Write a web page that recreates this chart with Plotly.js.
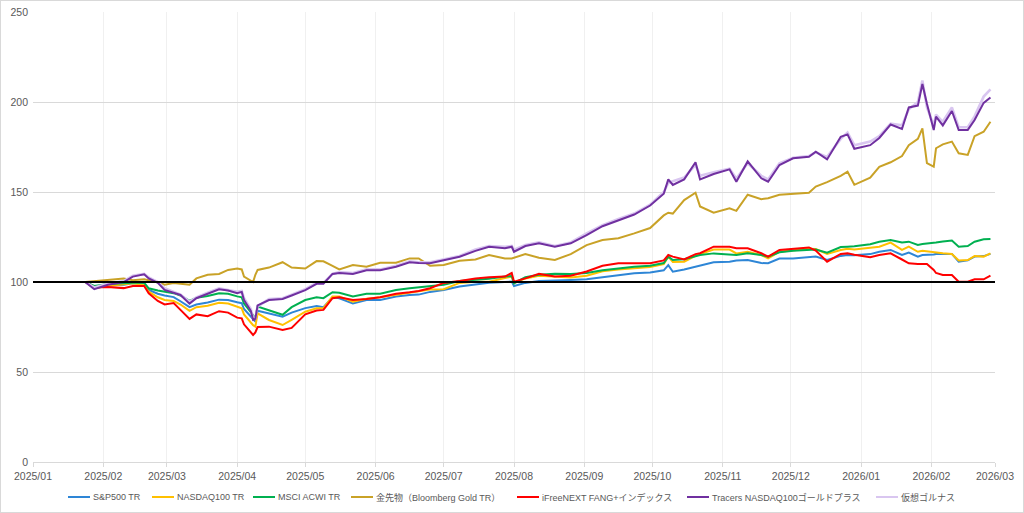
<!DOCTYPE html>
<html><head><meta charset="utf-8">
<script src="https://cdn.plot.ly/plotly-3.0.1.min.js"></script>
<style>
html,body{margin:0;padding:0;background:#fff;}
#chart{width:1024px;height:513px;box-sizing:border-box;border:1px solid #D9D9D9;}
</style></head>
<body><div id="chart"></div>
<script>
const dates = ['2025-01-24','2025-01-28','2025-02-03','2025-02-10','2025-02-14','2025-02-19','2025-02-21','2025-02-25','2025-02-28','2025-03-04',
'2025-03-07','2025-03-11','2025-03-14','2025-03-19','2025-03-24','2025-03-28','2025-04-01','2025-04-03','2025-04-04','2025-04-07',
'2025-04-08','2025-04-09','2025-04-10','2025-04-15','2025-04-21','2025-04-25','2025-05-01','2025-05-06','2025-05-09','2025-05-13',
'2025-05-16','2025-05-22','2025-05-28','2025-06-03','2025-06-10','2025-06-16','2025-06-20','2025-06-25','2025-07-01','2025-07-08',
'2025-07-15','2025-07-21','2025-07-28','2025-07-31','2025-08-01','2025-08-06','2025-08-12','2025-08-19','2025-08-26','2025-09-02',
'2025-09-09','2025-09-16','2025-09-23','2025-09-30','2025-10-06','2025-10-08','2025-10-10','2025-10-15','2025-10-20','2025-10-22',
'2025-10-28','2025-11-04','2025-11-07','2025-11-12','2025-11-18','2025-11-21','2025-11-26','2025-12-02','2025-12-09','2025-12-12',
'2025-12-17','2025-12-23','2025-12-26','2025-12-29','2026-01-05','2026-01-09','2026-01-14','2026-01-19','2026-01-22','2026-01-26',
'2026-01-28','2026-01-30','2026-02-02','2026-02-03','2026-02-06','2026-02-10','2026-02-13','2026-02-17','2026-02-20','2026-02-24',
'2026-02-27'];

const sp500 = [100,97.4,98,98.5,99.3,98.9,95.6,93.5,92.5,91.6,
89.3,86,87.5,88.6,90.2,90,88.7,88.2,85,80.5,
79,78,84,82.6,80.7,83,85.5,86.7,86,91.5,
91,88.1,90,90,91.9,92.8,93,94.5,95.6,97.5,
98.8,99.6,100,100.2,97.8,99.5,100.5,101,101.1,101.5,
102.5,103.5,104.8,105.3,106.5,109.4,105.7,107,108.5,109,
111,111.3,112,112.2,110.5,110.4,113,113.1,114,114.1,
112.2,114.5,115,114.8,115.5,116.8,117.8,115,116.3,114.1,
115,115,115.3,115.6,115.6,115.6,111.3,112,114.1,114.4,
115.6];

const nasdaq100 = [100,96.5,97.8,98.8,99.3,98.3,94.6,91.5,90,89.5,
87.5,84,86,86.8,88.5,88,86.5,85.4,82,77.5,
76,75.2,82.6,78.9,76.1,79,83.5,85.4,85.5,92,
92,89.1,90.7,91.5,92.8,94,94.8,95.8,96,99.5,
100.2,100.2,102.2,103,99.3,102,103.5,103,102.5,103.5,
106,107,107.6,108.3,110,114.1,111.1,111.3,114.5,115.5,
118,118,115.9,116.8,115,113.1,116.8,117.4,118.5,118.3,
115.6,117.8,118.5,118,119,119.6,121.9,117.8,119.6,116.8,
117.4,117,116.5,116.5,116,115.6,111.9,112.2,114.4,114.1,
115.9];

const acwi = [100,97.8,98.9,99.4,99.6,99.6,96.5,95.3,94.6,93.8,
92.5,89.5,91.2,92.2,93.8,93.5,92,91.5,88,83.5,
81.5,80,86.3,84.4,81.8,86,90,91.5,91,94.3,
94,91.9,93.5,93.5,95.5,96.5,97,97.6,98.5,100.5,
101.2,101.8,103,103.3,99.3,102.6,104,104.6,104.4,105,
106.5,107.5,108.5,109,110.5,114.1,112.2,112.6,114.5,115,
115.9,115.5,115,115.9,115,114.1,116.5,117.4,118.1,118,
116.3,119.4,119.6,119.8,121,122.4,123.3,121.9,122.4,120.6,
121.1,121.3,121.5,121.9,122.5,123,119.6,120,122.4,123.7,
123.9];

const goldTR = [100,100.5,101.5,102,101,101.5,101,100,98.5,99.5,
99,98.5,102,104,104.5,106.7,107.5,107,103,101,
100,104,106.7,108,111,108,107.5,111.6,111.5,109,
107,109.4,108.5,110.7,110.7,113.1,113.1,109,109.5,111.8,
112.5,115,113.1,113.1,113.5,115.5,113.5,112.2,115.5,120.5,
123.3,124.3,127,130,137,138.5,138,145.5,149.6,142,
138.5,140.9,139.5,148.5,146,146.5,148.5,149,149.6,153,
155.5,159,161.3,154,158,164,166.5,170,176,179.5,
185.4,166,164.1,174.3,176.5,178,171.5,170.6,181,183.5,
189];

const fangPlus = [100,97,97.2,96.6,97.8,97.8,93.7,89.5,87.5,88.3,
84.5,79.5,82,81,83.8,83,80.2,79.8,76.5,72,
70.6,72,75,75.2,73.3,74.5,82,84.2,84.5,91,
91.5,90,90.5,91.5,93.5,94.3,95,96.5,99.5,100.5,
102,102.6,103,105,100.2,102,104.5,103,103.5,105.8,
109,110.4,110.4,110.4,112,115,114.1,112.5,115.5,116,
119.6,119.6,118.7,118.7,116,114.1,117.8,118.6,119.2,117.5,
111.3,115.6,115.9,115.2,113.8,115,115.9,112.5,110.4,110,
110,110,106.7,105,103.9,103.9,100.2,100.2,101.5,101.5,
103.5];

const tracersGoldPlus = [100,96,98.5,100,103,104.3,102,99.5,95.6,94,
92.8,88,91,93.5,96,95.3,93.8,94.5,90,84,
79,79.5,87,90,90.6,92.5,95.5,99,99,104.5,
105,104.5,106.5,106.5,108.5,111,110.5,110.4,112,114,
117.3,119.6,118.7,119.6,116.8,120,121.5,119.6,121.5,126,
131,134.4,137.5,142.5,149,157,153.9,157,166.5,157,
160,162.6,155.7,167,157.6,155.7,165,168.7,169.6,172.4,
168.1,180.7,182,174,176,180,187.5,185,197,198,
210,199,184.4,191.9,187,195,184.4,184.5,190,199.5,
202.5];

const virtualGolnas = [100,97,99,100.5,103.5,104.5,102.5,100,96.5,94.5,
93,89,91.5,94,96.5,95.5,94.5,95,91,85,
80,80,86.5,90.5,91,93,96,99.5,99.5,104.5,
105.5,105,107,107,109,111.5,111,111,112.5,114.5,
118,120,119.5,120,118,120.5,122,120,122,127,
131.5,135,138,143,150,155,156,158,165,159,
161,163,157.5,166,159,157,166,169,170,172,
169.5,179.5,183,176,178,181,188,187,196,200,
212,197,187,193,189,197,186,186,192,203,
207];

const baseline = 100;

const seriesNames = ['S&P500 TR','NASDAQ100 TR','MSCI ACWI TR','金先物（Bloomberg Gold TR）','iFreeNEXT FANG+インデックス','Tracers NASDAQ100ゴールドプラス','仮想ゴルナス'];
const seriesData = [sp500, nasdaq100, acwi, goldTR, fangPlus, tracersGoldPlus, virtualGolnas];
const seriesColors = ['#2E86D6','#FFC000','#00B050','#C9A227','#FF0000','#7030A0','#D9C6F0'];
const seriesWidths = [2,2,2,2,2,2,2.6];
const drawOrder = [0,1,2,3,4,6,5];

// legend layout (page pixels): start of each legend key line
const legendKeyX = [68,152,253,351,517,687,876];
const legendY = 497;
const plotLeft = 33, plotRight = 995, plotTop = 12, plotBottom = 462;
const px2paperX = p => (p - plotLeft) / (plotRight - plotLeft);
const px2paperY = p => (plotBottom - p) / (plotBottom - plotTop);

const traces = drawOrder.map(i=>({
  type:'scatter', mode:'lines', name:seriesNames[i], x:dates, y:seriesData[i],
  line:{color:seriesColors[i], width:seriesWidths[i]}
}));

const font = '"Liberation Sans", "Noto Sans CJK JP", sans-serif';

const shapes = [{type:'line', xref:'paper', x0:0, x1:1, yref:'y', y0:baseline, y1:baseline,
    line:{color:'#000000', width:2}, layer:'above'}];
const annotations = [];
seriesNames.forEach((n,i)=>{
  shapes.push({type:'line', xref:'paper', yref:'paper',
    x0:px2paperX(legendKeyX[i]), x1:px2paperX(legendKeyX[i]+22),
    y0:px2paperY(legendY), y1:px2paperY(legendY),
    line:{color:seriesColors[i], width:2}});
  annotations.push({xref:'paper', yref:'paper', x:px2paperX(legendKeyX[i]+23), y:px2paperY(legendY),
    xanchor:'left', yanchor:'middle', showarrow:false, text:n,
    font:{family:font, size:9, color:'#595959'}});
});

const layout = {
  width:1022, height:511,
  margin:{l:32,r:28,t:11,b:50, autoexpand:false},
  paper_bgcolor:'#fff', plot_bgcolor:'#fff',
  showlegend:false,
  font:{family:font, size:11, color:'#595959'},
  xaxis:{
    type:'date', range:['2025-01-01','2026-03-01'],
    tick0:'2025-01-01', dtick:'M1', tickformat:'%Y/%m',
    showgrid:true, gridcolor:'#F0F0F0', gridwidth:1,
    showline:true, linecolor:'#D9D9D9', linewidth:1,
    ticks:'outside', ticklen:4, tickcolor:'#D9D9D9',
    tickfont:{family:font, size:10.5, color:'#595959'},
    zeroline:false, fixedrange:true
  },
  yaxis:{
    range:[0,250], dtick:50, tick0:0,
    showgrid:true, gridcolor:'#D9D9D9', gridwidth:1,
    showline:false, zeroline:false, ticks:'',
    ticklabelstandoff:4,
    tickfont:{family:font, size:10.5, color:'#595959'},
    fixedrange:true
  },
  shapes:shapes,
  annotations:annotations
};

Plotly.newPlot('chart', traces, layout, {staticPlot:true, displayModeBar:false});
</script></body></html>
